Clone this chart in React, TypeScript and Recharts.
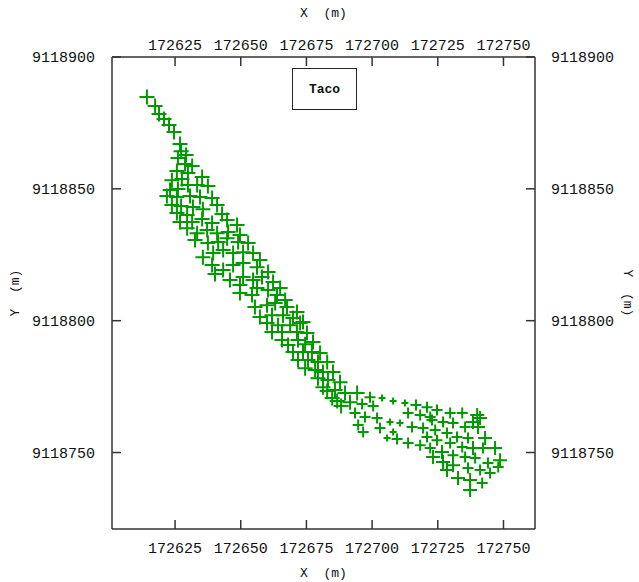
import { ScatterChart, Scatter, XAxis, YAxis, Legend } from 'recharts'

// survey points, X/Y in metres (UTM)
const xTicks = [172625, 172650, 172675, 172700, 172725, 172750]
const yTicks = [9118750, 9118800, 9118850, 9118900]
const xDomain = [172601, 172762]
const yDomain = [9118721, 9118900]

const upperReach: [number, number][] = [
  [172614.3, 9118884.8], [172617.4, 9118881.4], [172618.9, 9118878.4], [172620.8, 9118876.5],
  [172622.7, 9118874.2], [172624.6, 9118871.6], [172626.9, 9118867.0], [172627.3, 9118864.3],
  [172629.2, 9118862.8], [172626.1, 9118861.7], [172628.8, 9118859.4], [172631.5, 9118858.7],
  [172625.7, 9118856.8], [172629.9, 9118856.0], [172635.3, 9118854.5], [172623.8, 9118853.3],
  [172627.6, 9118853.7], [172623.1, 9118849.6], [172626.1, 9118849.9], [172629.9, 9118851.5],
  [172633.4, 9118851.5], [172637.5, 9118851.1], [172621.9, 9118847.3], [172625.7, 9118846.9],
  [172630.7, 9118847.3], [172634.5, 9118846.9], [172639.1, 9118846.5], [172623.8, 9118843.9],
  [172627.3, 9118843.5], [172631.8, 9118843.1], [172635.6, 9118842.3], [172641.0, 9118843.9],
  [172642.9, 9118840.5], [172625.7, 9118840.8], [172629.6, 9118840.1], [172626.9, 9118837.4],
  [172631.5, 9118837.4], [172635.3, 9118838.6], [172639.1, 9118837.0], [172644.8, 9118838.2],
  [172648.6, 9118836.3], [172629.6, 9118835.1], [172633.4, 9118833.2], [172637.2, 9118834.4],
  [172641.0, 9118833.2], [172645.2, 9118833.6], [172649.7, 9118832.5], [172632.6, 9118830.6],
  [172637.5, 9118829.5], [172641.4, 9118829.8], [172644.8, 9118831.3], [172649.0, 9118829.8],
  [172652.8, 9118829.5], [172635.6, 9118824.1], [172639.5, 9118825.7], [172643.3, 9118826.8],
  [172647.1, 9118825.7], [172650.9, 9118826.0], [172654.7, 9118825.7], [172657.3, 9118823.0],
  [172639.1, 9118821.1], [172643.3, 9118819.2], [172647.1, 9118821.1], [172650.9, 9118821.9],
  [172656.2, 9118820.3], [172660.4, 9118818.5], [172645.9, 9118815.4], [172649.7, 9118813.5],
  [172650.9, 9118816.6], [172654.7, 9118815.4], [172658.1, 9118816.6], [172662.3, 9118814.7],
  [172665.0, 9118812.4], [172649.7, 9118810.5], [172654.3, 9118809.7], [172656.2, 9118812.4],
  [172660.4, 9118811.6], [172663.8, 9118809.7], [172666.9, 9118807.8], [172655.4, 9118805.2],
  [172660.0, 9118805.9], [172663.1, 9118806.7], [172667.6, 9118805.2], [172671.4, 9118803.3],
  [172657.3, 9118801.4], [172661.9, 9118802.1], [172666.1, 9118802.1], [172669.9, 9118801.0],
  [172673.7, 9118799.5], [172660.0, 9118799.1], [172664.2, 9118798.3], [172668.8, 9118798.3],
  [172672.6, 9118799.1], [172661.9, 9118795.7], [172665.7, 9118795.7], [172671.4, 9118795.7],
  [172675.2, 9118795.3], [172665.7, 9118792.7], [172668.0, 9118790.8], [172671.8, 9118792.7],
  [172674.5, 9118791.1], [172677.5, 9118791.9], [172669.9, 9118788.1], [172673.7, 9118788.1],
  [172677.1, 9118788.1], [172680.2, 9118787.7], [172671.8, 9118785.1], [172675.6, 9118785.1],
  [172679.4, 9118784.3], [172682.9, 9118784.3], [172674.5, 9118782.0], [172678.3, 9118781.3],
  [172681.3, 9118780.5], [172685.1, 9118780.5], [172679.4, 9118778.2], [172683.2, 9118777.5],
  [172687.8, 9118776.7], [172681.3, 9118774.8], [172682.9, 9118773.3], [172685.9, 9118773.7],
  [172689.7, 9118772.6], [172684.8, 9118770.7], [172686.7, 9118769.5], [172688.2, 9118767.6],
  [172694.3, 9118772.6], [172691.6, 9118769.1], [172640.2, 9118817.7],
]

const lowerReach: [number, number][] = [
  [172696.2, 9118768.4], [172700.4, 9118767.6], [172699.2, 9118771.0], [172703.8, 9118770.7],
  [172708.0, 9118769.5], [172712.5, 9118768.8], [172716.7, 9118768.0], [172720.9, 9118767.2],
  [172724.7, 9118766.1], [172693.5, 9118765.0], [172697.3, 9118763.5], [172701.9, 9118763.1],
  [172706.8, 9118761.6], [172710.6, 9118761.2], [172713.7, 9118765.0], [172718.3, 9118764.2],
  [172722.1, 9118763.5], [172694.7, 9118760.4], [172696.6, 9118757.8], [172703.0, 9118759.3],
  [172708.0, 9118757.8], [172715.2, 9118759.7], [172719.4, 9118759.3], [172705.7, 9118755.5],
  [172709.5, 9118755.1], [172713.7, 9118753.6], [172718.3, 9118752.8], [172722.1, 9118751.7],
  [172720.9, 9118755.9], [172724.7, 9118754.7], [172723.2, 9118748.3], [172729.7, 9118765.0],
  [172734.3, 9118765.0], [172740.0, 9118764.2], [172741.1, 9118763.1], [172738.4, 9118761.6],
  [172722.8, 9118762.3], [172727.0, 9118761.6], [172730.8, 9118761.2], [172735.4, 9118759.7],
  [172740.3, 9118759.7], [172724.0, 9118758.5], [172728.5, 9118757.4], [172732.3, 9118755.9],
  [172736.5, 9118755.5], [172743.0, 9118755.5], [172729.7, 9118753.6], [172734.3, 9118752.1],
  [172738.4, 9118751.7], [172742.2, 9118751.7], [172746.8, 9118751.7], [172726.6, 9118750.2],
  [172730.8, 9118749.0], [172735.4, 9118748.3], [172739.2, 9118747.9], [172744.1, 9118746.0],
  [172748.7, 9118747.1], [172748.0, 9118744.5], [172727.0, 9118746.4], [172730.8, 9118745.2],
  [172736.5, 9118744.1], [172741.1, 9118743.4], [172744.9, 9118742.2], [172728.5, 9118743.4],
  [172732.7, 9118740.3], [172737.3, 9118739.6], [172741.9, 9118738.4], [172737.3, 9118735.8],
]

// marker class of each lower-reach point (s = small, m = medium, l = large)
const lowerMarker = [
  'm', 'm', 'm', 's', 's', 's', 'm', 'm', 'm', 'm', 'm', 'm', 's', 's', 'm', 'm',
  'm', 'm', 'm', 'm', 's', 'm', 'm', 's', 'm', 'm', 'm', 'm', 'm', 'm', 'l', 'm',
  'm', 'l', 'l', 'l', 'm', 'm', 'm', 'm', 'l', 'm', 'm', 'm', 'm', 'l', 'm', 'm',
  'l', 'm', 'l', 'l', 'm', 'm', 'm', 'm', 'l', 'm', 'l', 'l', 'm', 'm', 'm', 'l',
  'l', 'l', 'm', 'l',
]

const GREEN = '#009a00'
const INK = '#111'
const FONT = '"Liberation Mono", "DejaVu Sans Mono", monospace'
const HALF: Record<string, number> = { s: 3.5, m: 5.5, l: 7 }

const upperData = upperReach.map(([x, y]) => ({ x, y, h: 7.5 }))
const lowerData = lowerReach.map(([x, y], i) => ({ x, y, h: HALF[lowerMarker[i]] }))

function Plus(props: any) {
  const { cx, cy, payload } = props
  const h = payload.h
  return (
    <path
      d={`M${cx - h},${cy}H${cx + h}M${cx},${cy - h}V${cy + h}`}
      stroke={GREEN}
      strokeWidth={2}
      fill="none"
    />
  )
}

const tickStyle = { fill: INK, fontSize: 15, fontFamily: FONT }
const titleStyle = { fill: INK, fontSize: 13, fontFamily: FONT }

function SideTitle({ viewBox, side }: any) {
  const { x, y, width, height } = viewBox
  const tx = side === 'left' ? x + 15 : x + width - 12
  const ty = y + height / 2
  return (
    <text
      x={tx}
      y={ty}
      transform={`rotate(${side === 'left' ? -90 : 90} ${tx} ${ty})`}
      textAnchor="middle"
      dominantBaseline="central"
      style={titleStyle}
    >
      {'Y\u00a0\u00a0(m)'}
    </text>
  )
}

function KeyBox() {
  return (
    <div
      style={{
        width: 63,
        height: 40,
        border: '1.5px solid #222',
        background: '#fff',
        display: 'flex',
        alignItems: 'center',
        justifyContent: 'center',
        fontFamily: FONT,
        fontWeight: 'bold',
        fontSize: 13,
        color: INK,
      }}
    >
      Taco
    </div>
  )
}

export default function App() {
  return (
    <div style={{ position: 'absolute', left: 0, top: 0, width: 639, height: 582, background: '#fff' }}>
      <ScatterChart width={639} height={582} margin={{ top: 0, right: 0, bottom: 0, left: 0 }}>
        <XAxis
          xAxisId="bottom"
          orientation="bottom"
          type="number"
          dataKey="x"
          domain={xDomain}
          ticks={xTicks}
          interval={0}
          allowDataOverflow
          height={53}
          tickSize={-9}
          tickMargin={22}
          tick={tickStyle}
          stroke="#333"
          axisLine={{ stroke: '#333', strokeWidth: 1.5 }}
          tickLine={{ stroke: '#333', strokeWidth: 1.5 }}
          label={{ value: 'X\u00a0\u00a0(m)', position: 'insideBottom', offset: 5, style: titleStyle }}
        />
        <XAxis
          xAxisId="top"
          orientation="top"
          type="number"
          dataKey="x"
          domain={xDomain}
          ticks={xTicks}
          interval={0}
          allowDataOverflow
          height={57}
          tickSize={-9}
          tickMargin={16}
          tick={tickStyle}
          stroke="#333"
          axisLine={{ stroke: '#333', strokeWidth: 1.5 }}
          tickLine={{ stroke: '#333', strokeWidth: 1.5 }}
          label={{ value: 'X\u00a0\u00a0(m)', position: 'insideTop', offset: 8, style: titleStyle }}
        />
        <YAxis
          yAxisId="left"
          orientation="left"
          type="number"
          dataKey="y"
          domain={yDomain}
          ticks={yTicks}
          interval={0}
          allowDataOverflow
          width={112}
          tickSize={-9}
          tickMargin={26}
          tick={tickStyle}
          stroke="#333"
          axisLine={{ stroke: '#333', strokeWidth: 1.5 }}
          tickLine={{ stroke: '#333', strokeWidth: 1.5 }}
          label={{ content: (p: any) => <SideTitle viewBox={p.viewBox} side="left" /> }}
        />
        <YAxis
          yAxisId="right"
          orientation="right"
          type="number"
          dataKey="y"
          domain={yDomain}
          ticks={yTicks}
          interval={0}
          allowDataOverflow
          width={104}
          tickSize={-9}
          tickMargin={25}
          tick={tickStyle}
          stroke="#333"
          axisLine={{ stroke: '#333', strokeWidth: 1.5 }}
          tickLine={{ stroke: '#333', strokeWidth: 1.5 }}
          label={{ content: (p: any) => <SideTitle viewBox={p.viewBox} side="right" /> }}
        />
        <Legend
          layout="horizontal"
          verticalAlign="middle"
          align="center"
          content={() => <KeyBox />}
          wrapperStyle={{ position: 'absolute', left: 292, top: 68, width: 'auto', height: 'auto' }}
        />
        <Scatter
          name="Taco"
          data={upperData}
          xAxisId="bottom"
          yAxisId="left"
          shape={Plus}
          isAnimationActive={false}
        />
        <Scatter
          name="Taco lower"
          data={lowerData}
          xAxisId="bottom"
          yAxisId="left"
          shape={Plus}
          isAnimationActive={false}
        />
      </ScatterChart>
    </div>
  )
}
